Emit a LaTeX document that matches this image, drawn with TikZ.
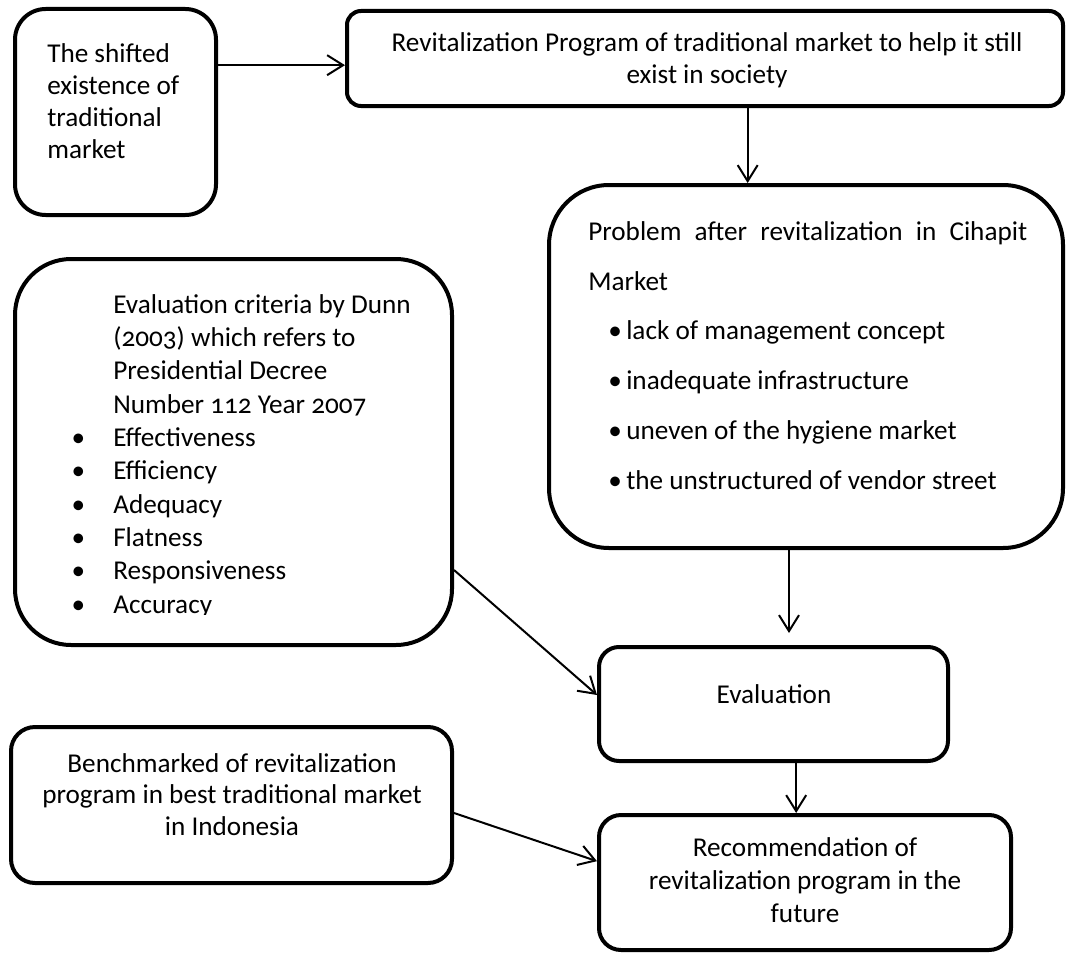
\documentclass[tikz,border=0pt]{standalone}
\usepackage{fontspec}
\setmainfont{Carlito}[Numbers=OldStyle]
\usetikzlibrary{arrows.meta}

\begin{document}
\begin{tikzpicture}[x=0.75pt, y=-0.75pt,
		block/.style={draw, line width=3pt, rectangle, inner sep=0pt},
		link/.style={line width=1.5pt, -{Straight Barb[length=12pt, width=15pt, line width=1.5pt]}},
		words/.style={inner sep=0pt, font=\fontsize{20.4}{24.4}\selectfont}]
	\useasboundingbox (0,0) rectangle (1067,956);
	% boxes
	\node[block, minimum width=150.75pt, minimum height=154.5pt, rounded corners=23pt] (shifted) at (115.5,112) {};
	\node[block, minimum width=537pt, minimum height=71.25pt, rounded corners=10.5pt] (revprog) at (705,58.5) {};
	\node[block, minimum width=385.5pt, minimum height=272.25pt, rounded corners=45pt] (problem) at (806,366.5) {};
	\node[block, minimum width=327.75pt, minimum height=289.5pt, rounded corners=42pt] (criteria) at (233.5,452) {};
	\node[block, minimum width=261.75pt, minimum height=85.5pt, rounded corners=15pt] (evaluation) at (773.5,704) {};
	\node[block, minimum width=330.75pt, minimum height=117pt, rounded corners=18pt] (benchmark) at (231.5,805) {};
	\node[block, minimum width=309pt, minimum height=101.25pt, rounded corners=16.5pt] (recommend) at (805,882.5) {};
	% texts (anchored at the baseline of their last line)
	\node[words, anchor=base west, align=left, font=\fontsize{20.4}{24}\selectfont] (shiftedtxt) at (47,158)
		{The shifted\\existence of\\traditional\\market};
	\node[words, anchor=base, align=center] (revprogtxt) at (707,84)
		{Revitalization Program of traditional market to help it still\\exist in society};
	\node[words, anchor=base west, align=left, font=\fontsize{20.4}{37.3}\selectfont] (problemtxt) at (588,489)
		{\makebox[329.25pt][s]{Problem after revitalization in Cihapit}\\
		Market\\
		\hspace*{15pt}\makebox[13.5pt][l]{\textbullet}lack of management concept\\
		\hspace*{15pt}\makebox[13.5pt][l]{\textbullet}inadequate infrastructure\\
		\hspace*{15pt}\makebox[13.5pt][l]{\textbullet}uneven of the hygiene market\\
		\hspace*{15pt}\makebox[13.5pt][l]{\textbullet}the unstructured of vendor street};
	\begin{scope}
		\clip (0,0) rectangle (1067,614);
		\node[words, anchor=base west, align=left, font=\fontsize{20.4}{25}\selectfont] (criteriatxt) at (113,613)
			{Evaluation criteria by Dunn\\
			(2003) which refers to\\
			Presidential Decree\\
			Number 112 Year 2007\\
			\llap{\textbullet\hspace{21pt}}Effectiveness\\
			\llap{\textbullet\hspace{21pt}}Efficiency\\
			\llap{\textbullet\hspace{21pt}}Adequacy\\
			\llap{\textbullet\hspace{21pt}}Flatness\\
			\llap{\textbullet\hspace{21pt}}Responsiveness\\
			\llap{\textbullet\hspace{21pt}}Accuracy};
	\end{scope}
	\node[words, anchor=base] (evaluationtxt) at (774,703) {Evaluation};
	\node[words, anchor=base, align=center, font=\fontsize{20.4}{23.6}\selectfont] (benchmarktxt) at (232,835)
		{Benchmarked of revitalization\\program in best traditional market\\in Indonesia};
	\node[words, anchor=base, align=center] (recommendtxt) at (805,922)
		{Recommendation of\\revitalization program in the\\future};
	% connectors
	\draw[link] ([yshift=-5pt]shifted.east |- revprog.west) -- ([yshift=-5pt]revprog.west);
	\draw[link] ([xshift=32pt]revprog.south) -- ([xshift=32pt]revprog.south |- problem.north);
	\draw[link, shorten >=9pt] ([xshift=-12.75pt]problem.south) -- ([xshift=-12.75pt]problem.south |- evaluation.north);
	\draw[link] ([yshift=-88.5pt]criteria.east) -- ([yshift=6.75pt]evaluation.west);
	\draw[link] ([xshift=17pt]evaluation.south) -- ([xshift=17pt]evaluation.south |- recommend.north);
	\draw[link] ([yshift=-6pt]benchmark.east) -- ([yshift=16pt]recommend.west);
\end{tikzpicture}
\end{document}
